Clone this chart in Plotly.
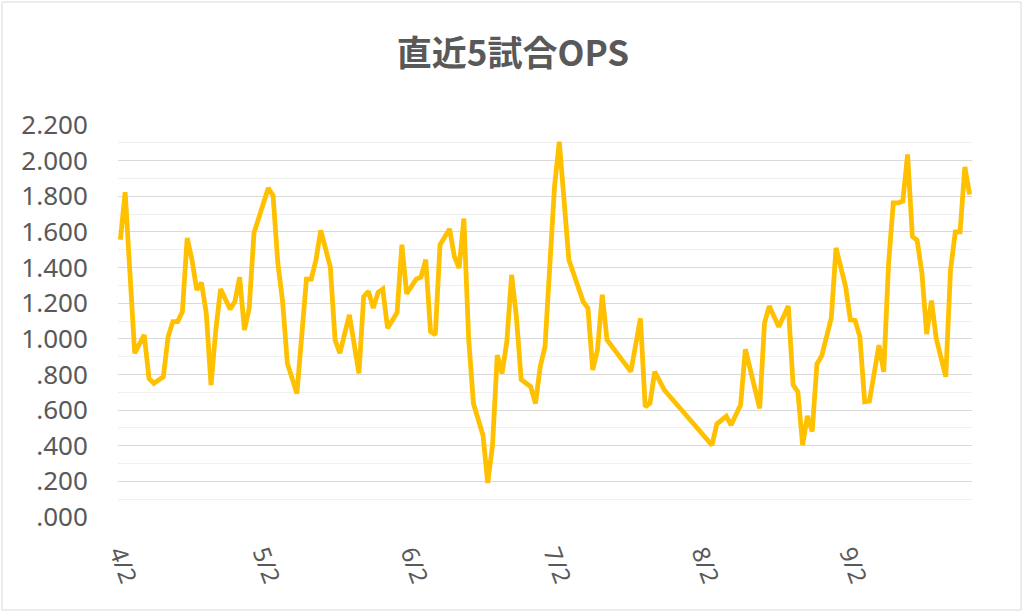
import plotly.graph_objects as go

YEAR = "2021"

dates_md = [
    "04-02", "04-03", "04-05", "04-07", "04-08", "04-09", "04-11", "04-12", "04-13", "04-14",
    "04-15", "04-16", "04-17", "04-18", "04-19", "04-20", "04-21", "04-22", "04-23", "04-25",
    "04-26", "04-27", "04-28", "04-29", "04-30",
    "05-03", "05-04", "05-05", "05-06", "05-07", "05-09", "05-11", "05-12", "05-13", "05-14",
    "05-16", "05-17", "05-18", "05-20", "05-22", "05-23", "05-24", "05-25", "05-26", "05-27",
    "05-28", "05-30", "05-31",
    "06-01", "06-03", "06-04", "06-05", "06-06", "06-07", "06-08", "06-10", "06-11", "06-12",
    "06-13", "06-14", "06-15", "06-17", "06-18", "06-19", "06-20", "06-21", "06-22", "06-23",
    "06-24", "06-25", "06-27", "06-28", "06-29", "06-30",
    "07-02", "07-03", "07-05", "07-08", "07-09", "07-10", "07-11", "07-12", "07-13", "07-18",
    "07-20", "07-21", "07-22", "07-23", "07-25",
    "08-04", "08-05", "08-07", "08-08", "08-10", "08-11", "08-14", "08-15", "08-16", "08-18",
    "08-20", "08-21", "08-22", "08-23", "08-24", "08-25", "08-26", "08-27", "08-29", "08-30",
    "09-01", "09-02", "09-03", "09-04", "09-05", "09-06", "09-08", "09-09", "09-10", "09-11",
    "09-12", "09-13", "09-14", "09-15", "09-16", "09-17", "09-18", "09-19", "09-20", "09-22",
    "09-23", "09-24", "09-25", "09-26", "09-27",
]

ops = [
    1.556, 1.823, 0.919, 1.022, 0.778, 0.750, 0.787, 1.012, 1.097, 1.097,
    1.153, 1.566, 1.444, 1.275, 1.316, 1.144, 0.740, 1.050, 1.279, 1.166,
    1.209, 1.346, 1.050, 1.172, 1.594,
    1.847, 1.804, 1.425, 1.209, 0.862, 0.693, 1.335, 1.335, 1.444, 1.609,
    1.403, 0.994, 0.919, 1.134, 0.806, 1.238, 1.266, 1.172, 1.260, 1.279,
    1.059, 1.148, 1.528,
    1.253, 1.335, 1.346, 1.444, 1.041, 1.022, 1.528, 1.617, 1.463, 1.397,
    1.675, 1.000, 0.637, 0.459, 0.191, 0.403, 0.909, 0.806, 0.984, 1.359,
    1.125, 0.772, 0.731, 0.637, 0.844, 0.956,
    1.857, 2.106, 1.444, 1.209, 1.172, 0.825, 0.937, 1.247, 0.994, 0.816,
    1.115, 0.619, 0.638, 0.816, 0.713,
    0.403, 0.521, 0.566, 0.516, 0.630, 0.941, 0.610, 1.087, 1.184, 1.068,
    1.184, 0.741, 0.703, 0.404, 0.567, 0.479, 0.859, 0.905, 1.116, 1.510,
    1.294, 1.106, 1.103, 1.012, 0.647, 0.650, 0.965, 0.815, 1.416, 1.763,
    1.763, 1.772, 2.035, 1.575, 1.553, 1.369, 1.027, 1.215, 1.003, 0.787,
    1.388, 1.600, 1.600, 1.965, 1.810,
]

x_tick_dates = ["04-02", "05-02", "06-02", "07-02", "08-02", "09-02"]
x_tick_labels = ["4/2", "5/2", "6/2", "7/2", "8/2", "9/2"]

y_tick_vals = [0.0, 0.2, 0.4, 0.6, 0.8, 1.0, 1.2, 1.4, 1.6, 1.8, 2.0, 2.2]
y_tick_labels = [".000", ".200", ".400", ".600", ".800", "1.000", "1.200",
                 "1.400", "1.600", "1.800", "2.000", "2.200"]

title_text = "直近5試合OPS"

dates = [f"{YEAR}-{d}" for d in dates_md]
xtv = [f"{YEAR}-{d}" for d in x_tick_dates]

TXT = "#595959"
FONT = "Noto Sans, Noto Sans CJK JP, sans-serif"

fig = go.Figure()
fig.add_trace(go.Scatter(
    x=dates, y=ops, mode="lines",
    line=dict(color="#FFC000", width=4.8),
    hoverinfo="x+y", showlegend=False,
))

fig.update_layout(
    width=1024, height=613,
    margin=dict(l=118, r=52, t=125, b=96),
    paper_bgcolor="white", plot_bgcolor="white",
    font=dict(family=FONT, color=TXT),
    title=dict(
        text=f"<b>{title_text}</b>",
        x=0.501, xanchor="center", xref="container",
        y=1 - 54 / 613, yanchor="middle", yref="container",
        font=dict(family="Noto Sans CJK JP, sans-serif", size=35, color=TXT),
    ),
    xaxis=dict(
        type="date",
        range=[f"{YEAR}-04-01 12:00", f"{YEAR}-09-27 12:00"],
        tickvals=xtv, ticktext=x_tick_labels,
        tickangle=70,
        showgrid=False, zeroline=False, showline=False,
        ticks="outside", ticklen=12, tickcolor="rgba(0,0,0,0)",
        tickfont=dict(size=24, color=TXT, family=FONT),
    ),
    yaxis=dict(
        range=[0, 2.2],
        tickvals=y_tick_vals, ticktext=y_tick_labels,
        showgrid=True, gridcolor="#d9d9d9", gridwidth=1.2,
        minor=dict(dtick=0.1, tick0=0, showgrid=True, gridcolor="#f0f0f0", gridwidth=1),
        zeroline=False, showline=False,
        ticks="outside", ticklen=24, tickcolor="rgba(0,0,0,0)",
        tickfont=dict(size=26, color=TXT, family=FONT),
    ),
)

fig.add_shape(
    type="rect", xref="paper", yref="paper",
    x0=(2 - 118) / 854, x1=(1021 - 118) / 854,
    y0=(517 - 610) / 392, y1=(517 - 2) / 392,
    line=dict(color="#d9d9d9", width=1), fillcolor="rgba(0,0,0,0)", layer="below",
)

fig.write_html(
    "out.html",
    config={"displayModeBar": False},
    post_script="document.body.style.margin='0';document.body.style.overflow='hidden';",
)
